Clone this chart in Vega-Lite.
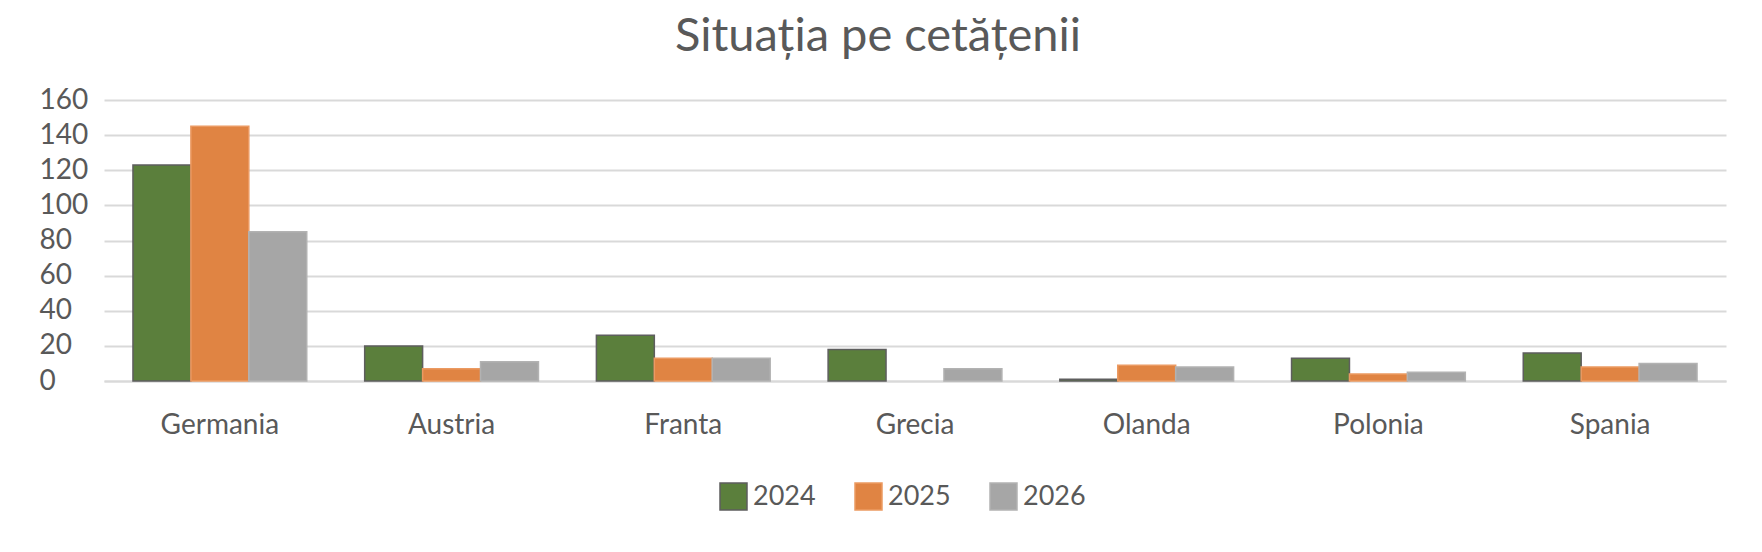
{
  "$schema": "https://vega.github.io/schema/vega-lite/v6.json",
  "width": 1622,
  "height": 281,
  "autosize": {"type": "none"},
  "padding": {"left": 104, "top": 100, "right": 36, "bottom": 171},
  "background": "white",
  "title": {
    "text": "Situația pe cetățenii",
    "font": "Lato",
    "fontSize": 47,
    "fontWeight": "normal",
    "color": "#595959",
    "anchor": "middle",
    "baseline": "alphabetic",
    "dx": -37,
    "offset": -12
  },
  "data": {
    "values": [
      {"country": "Germania", "year": "2024", "value": 123},
      {"country": "Germania", "year": "2025", "value": 145},
      {"country": "Germania", "year": "2026", "value": 85},
      {"country": "Austria", "year": "2024", "value": 20},
      {"country": "Austria", "year": "2025", "value": 7},
      {"country": "Austria", "year": "2026", "value": 11},
      {"country": "Franta", "year": "2024", "value": 26},
      {"country": "Franta", "year": "2025", "value": 13},
      {"country": "Franta", "year": "2026", "value": 13},
      {"country": "Grecia", "year": "2024", "value": 18},
      {"country": "Grecia", "year": "2025", "value": 0},
      {"country": "Grecia", "year": "2026", "value": 7},
      {"country": "Olanda", "year": "2024", "value": 1},
      {"country": "Olanda", "year": "2025", "value": 9},
      {"country": "Olanda", "year": "2026", "value": 8},
      {"country": "Polonia", "year": "2024", "value": 13},
      {"country": "Polonia", "year": "2025", "value": 4},
      {"country": "Polonia", "year": "2026", "value": 5},
      {"country": "Spania", "year": "2024", "value": 16},
      {"country": "Spania", "year": "2025", "value": 8},
      {"country": "Spania", "year": "2026", "value": 10}
    ]
  },
  "mark": {"type": "bar", "strokeWidth": 1.5},
  "encoding": {
    "x": {
      "field": "country",
      "type": "nominal",
      "sort": ["Germania", "Austria", "Franta", "Grecia", "Olanda", "Polonia", "Spania"],
      "scale": {"paddingInner": 0.25, "paddingOuter": 0.125},
      "axis": {
        "title": null,
        "labelAngle": 0,
        "ticks": false,
        "labelFont": "Lato",
        "labelFontSize": 28,
        "labelColor": "#595959",
        "labelPadding": 30,
        "domainColor": "#D9D9D9",
        "domainWidth": 2
      }
    },
    "xOffset": {
      "field": "year",
      "type": "nominal",
      "scale": {"paddingInner": 0, "paddingOuter": 0}
    },
    "y": {
      "field": "value",
      "type": "quantitative",
      "scale": {"domain": [0, 160], "nice": false},
      "axis": {
        "title": null,
        "values": [0, 20, 40, 60, 80, 100, 120, 140, 160],
        "ticks": false,
        "domain": false,
        "gridColor": "#D9D9D9",
        "gridWidth": 2,
        "labelFont": "Lato",
        "labelFontSize": 28,
        "labelColor": "#595959",
        "labelAlign": "left",
        "labelBaseline": "middle",
        "labelPadding": 65
      }
    },
    "color": {
      "field": "year",
      "type": "nominal",
      "scale": {"domain": ["2024", "2025", "2026"], "range": ["#5B7F3C", "#E08443", "#A6A6A6"]},
      "legend": {"title": null}
    },
    "stroke": {
      "field": "year",
      "type": "nominal",
      "scale": {"domain": ["2024", "2025", "2026"], "range": ["#5E5E5E", "#EB9A62", "#B2B2B2"]},
      "legend": {"title": null}
    },
    "strokeOpacity": {
      "condition": {"test": "datum.value == 0", "value": 0},
      "value": 1
    }
  },
  "config": {
    "view": {"stroke": null},
    "legend": {
      "orient": "none",
      "direction": "horizontal",
      "legendX": 615,
      "legendY": 382,
      "symbolType": "square",
      "symbolSize": 729,
      "symbolStrokeWidth": 1.5,
      "labelFont": "Lato",
      "labelFontSize": 27,
      "labelColor": "#595959",
      "labelOffset": 5,
      "columnPadding": 36,
      "padding": 0
    }
  }
}
